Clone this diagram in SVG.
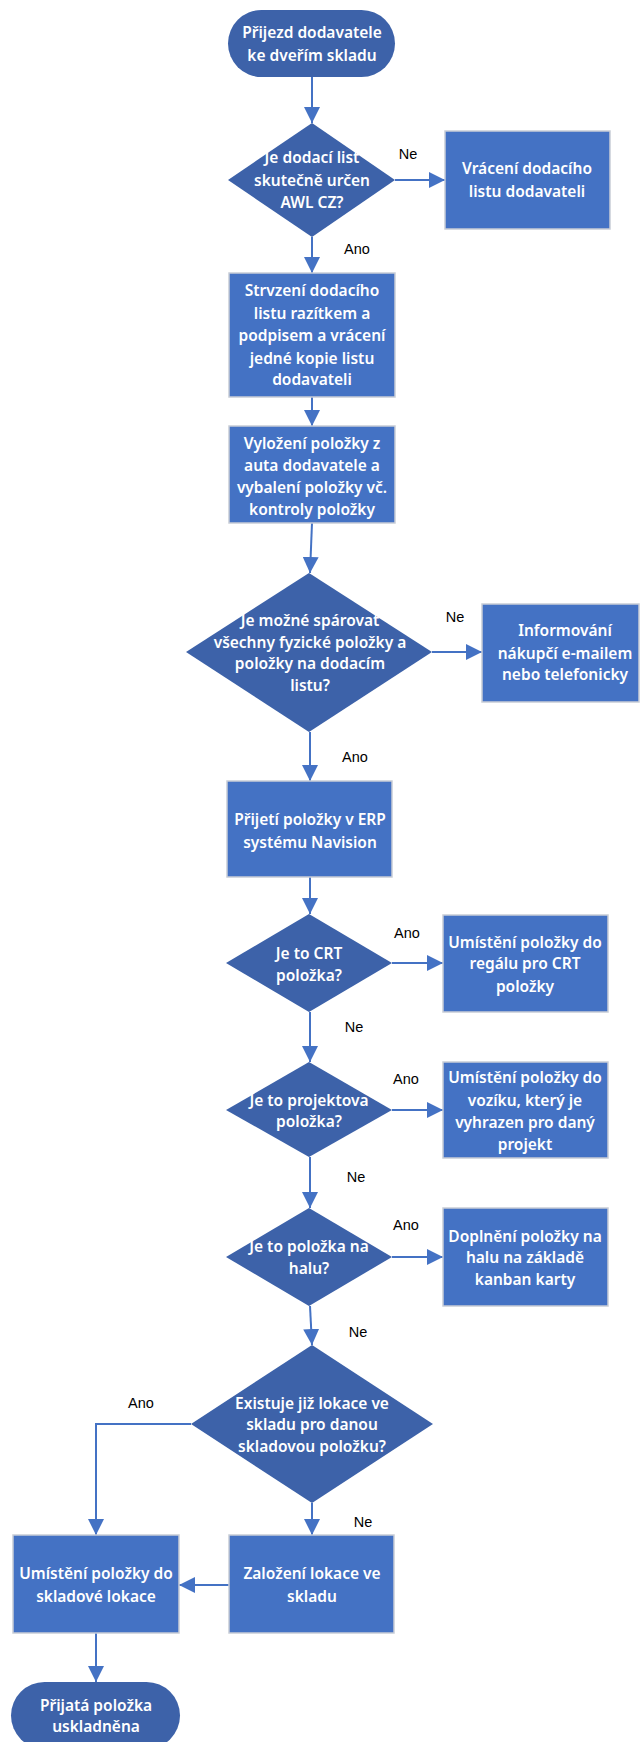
<svg xmlns="http://www.w3.org/2000/svg" width="640" height="1742" viewBox="0 0 640 1742">
<style>
.term{fill:#3D62A9;}
.dia{fill:#3D62A9;}
.box{fill:#4472C4;stroke:#C8CDD6;stroke-width:1.5;}
.t{font-family:"Noto Sans","Liberation Sans",Arial,sans-serif;font-size:15.5px;font-weight:600;fill:#FFFFFF;text-anchor:middle;dominant-baseline:central;}
.lbl{font-family:"Liberation Sans",Arial,sans-serif;font-size:14.5px;fill:#000000;text-anchor:middle;dominant-baseline:central;}
.c{fill:none;stroke:#4472C4;stroke-width:2;marker-end:url(#ah);}
</style>
<defs>
<marker id="ah" viewBox="0 0 16 16" refX="16" refY="8" markerWidth="16" markerHeight="16" markerUnits="userSpaceOnUse" orient="auto">
<path d="M0,0 L16,8 L0,16 z" fill="#4472C4"/>
</marker>
</defs>
<rect width="640" height="1742" fill="#FFFFFF"/>
<g id="connectors">
<path class="c" d="M312,77 L312,123"/>
<path class="c" d="M395,180 L445,180"/>
<path class="c" d="M312,237 L312,273"/>
<path class="c" d="M312,397 L312,426"/>
<path class="c" d="M312,523 L310,573"/>
<path class="c" d="M432,652 L482,652"/>
<path class="c" d="M310,732 L310,781"/>
<path class="c" d="M310,877 L310,914"/>
<path class="c" d="M392,963 L443,963"/>
<path class="c" d="M310,1012 L310,1062"/>
<path class="c" d="M392,1110 L443,1110"/>
<path class="c" d="M310,1157 L310,1208"/>
<path class="c" d="M392,1257 L443,1257"/>
<path class="c" d="M310,1306 L312,1345"/>
<path class="c" d="M191,1424 L96,1424 L96,1535"/>
<path class="c" d="M312,1503 L312,1535"/>
<path class="c" d="M229,1585 L179,1585"/>
<path class="c" d="M96,1633 L96,1682"/>
<text class="lbl" x="408" y="154">Ne</text>
<text class="lbl" x="357" y="249">Ano</text>
<text class="lbl" x="455" y="617">Ne</text>
<text class="lbl" x="355" y="757">Ano</text>
<text class="lbl" x="407" y="933">Ano</text>
<text class="lbl" x="354" y="1027">Ne</text>
<text class="lbl" x="406" y="1079">Ano</text>
<text class="lbl" x="356" y="1177">Ne</text>
<text class="lbl" x="406" y="1225">Ano</text>
<text class="lbl" x="358" y="1332">Ne</text>
<text class="lbl" x="141" y="1403">Ano</text>
<text class="lbl" x="363" y="1522">Ne</text>
</g>
<g id="start">
<rect class="term" x="228" y="10" width="167" height="67" rx="33.5" ry="33.5"/>
<text class="t" x="312" y="32">Přijezd dodavatele</text>
<text class="t" x="312" y="55">ke dveřím skladu</text>
</g>
<g id="d1">
<polygon class="dia" points="312,123 395,180 312,237 228,180"/>
<text class="t" x="312" y="157">Je dodací list</text>
<text class="t" x="312" y="180">skutečně určen</text>
<text class="t" x="312" y="202">AWL CZ?</text>
</g>
<g id="vraceni">
<rect class="box" x="445" y="131" width="165" height="98"/>
<text class="t" x="527" y="168">Vrácení dodacího</text>
<text class="t" x="527" y="191">listu dodavateli</text>
</g>
<g id="strvzeni">
<rect class="box" x="229" y="273" width="166" height="124"/>
<text class="t" x="312" y="290">Strvzení dodacího</text>
<text class="t" x="312" y="313">listu razítkem a</text>
<text class="t" x="312" y="335">podpisem a vrácení</text>
<text class="t" x="312" y="358">jedné kopie listu</text>
<text class="t" x="312" y="379">dodavateli</text>
</g>
<g id="vylozeni">
<rect class="box" x="229" y="426" width="166" height="97"/>
<text class="t" x="312" y="443">Vyložení položky z</text>
<text class="t" x="312" y="465">auta dodavatele a</text>
<text class="t" x="312" y="487">vybalení položky vč.</text>
<text class="t" x="312" y="509">kontroly položky</text>
</g>
<g id="d3">
<polygon class="dia" points="309,573 432,652 309,732 186,652"/>
<text class="t" x="310" y="620">Je možné spárovat</text>
<text class="t" x="310" y="642">všechny fyzické položky a</text>
<text class="t" x="310" y="663">položky na dodacím</text>
<text class="t" x="310" y="685">listu?</text>
</g>
<g id="informovani">
<rect class="box" x="482" y="604" width="157" height="98"/>
<text class="t" x="565" y="630">Informování</text>
<text class="t" x="565" y="653">nákupčí e-mailem</text>
<text class="t" x="565" y="674">nebo telefonicky</text>
</g>
<g id="prijeti">
<rect class="box" x="227" y="781" width="165" height="96"/>
<text class="t" x="310" y="819">Přijetí položky v ERP</text>
<text class="t" x="310" y="842">systému Navision</text>
</g>
<g id="d4">
<polygon class="dia" points="309,914 392,963 309,1012 226,963"/>
<text class="t" x="309" y="953">Je to CRT</text>
<text class="t" x="309" y="975">položka?</text>
</g>
<g id="crt">
<rect class="box" x="443" y="915" width="165" height="97"/>
<text class="t" x="525" y="942">Umístění položky do</text>
<text class="t" x="525" y="963">regálu pro CRT</text>
<text class="t" x="525" y="986">položky</text>
</g>
<g id="d5">
<polygon class="dia" points="309,1062 392,1110 309,1157 226,1110"/>
<text class="t" x="309" y="1100">Je to projektova</text>
<text class="t" x="309" y="1121">položka?</text>
</g>
<g id="vozik">
<rect class="box" x="443" y="1062" width="165" height="96"/>
<text class="t" x="525" y="1077">Umístění položky do</text>
<text class="t" x="525" y="1100">vozíku, který je</text>
<text class="t" x="525" y="1122">vyhrazen pro daný</text>
<text class="t" x="525" y="1144">projekt</text>
</g>
<g id="d6">
<polygon class="dia" points="309,1208 392,1257 309,1306 226,1257"/>
<text class="t" x="309" y="1246">Je to položka na</text>
<text class="t" x="309" y="1268">halu?</text>
</g>
<g id="doplneni">
<rect class="box" x="443" y="1208" width="165" height="98"/>
<text class="t" x="525" y="1236">Doplnění položky na</text>
<text class="t" x="525" y="1257">halu na základě</text>
<text class="t" x="525" y="1279">kanban karty</text>
</g>
<g id="d7">
<polygon class="dia" points="312,1345 433,1424 312,1503 191,1424"/>
<text class="t" x="312" y="1403">Existuje již lokace ve</text>
<text class="t" x="312" y="1424">skladu pro danou</text>
<text class="t" x="312" y="1446">skladovou položku?</text>
</g>
<g id="umisteni">
<rect class="box" x="13" y="1535" width="166" height="98"/>
<text class="t" x="96" y="1573">Umístění položky do</text>
<text class="t" x="96" y="1596">skladové lokace</text>
</g>
<g id="zalozeni">
<rect class="box" x="229" y="1535" width="165" height="98"/>
<text class="t" x="312" y="1573">Založení lokace ve</text>
<text class="t" x="312" y="1596">skladu</text>
</g>
<g id="end">
<rect class="term" x="11" y="1682" width="169" height="67" rx="33.5" ry="33.5"/>
<text class="t" x="96" y="1705">Přijatá položka</text>
<text class="t" x="96" y="1726">uskladněna</text>
</g>
</svg>
